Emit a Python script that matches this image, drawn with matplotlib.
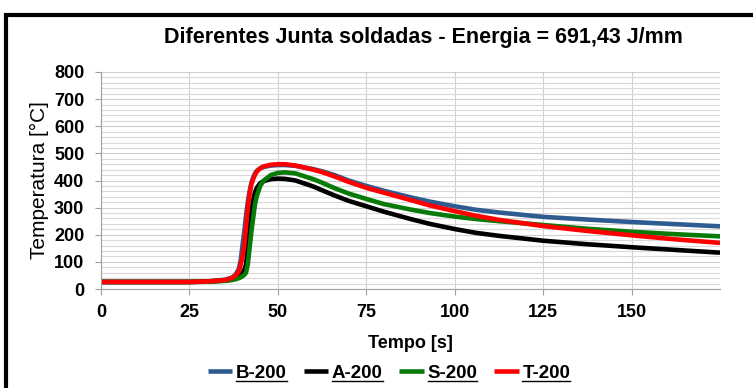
import matplotlib
matplotlib.use('Agg')
import matplotlib.pyplot as plt
from matplotlib.patches import Rectangle
from matplotlib.lines import Line2D
from matplotlib.ticker import MultipleLocator

plt.rcParams['font.family'] = ['Liberation Sans', 'DejaVu Sans']

# time [s]
tempo = [0, 25, 30, 35, 37, 38, 39, 39.5, 40, 40.5, 41, 41.5, 42, 42.5, 43, 43.5, 44, 45, 46, 48,
         50, 52, 55, 60, 62.5, 66, 70, 75, 80, 87.5, 93, 100, 106, 112.5, 125, 137.5, 150, 162.5, 175]

# temperatures [°C]
b200 = [26, 26, 28, 34, 42, 52, 75, 107, 160, 210, 270, 320, 360, 390, 410, 425, 435, 445, 450, 455,
        457, 457, 454, 442, 434, 420, 400, 380, 362, 338, 322, 305, 292, 282, 266, 256, 247, 239, 231]
a200 = [26, 26, 27, 31, 35, 39, 45, 50, 58, 70, 90, 150, 220, 280, 325, 355, 372, 390, 398, 405,
        407, 406, 400, 378, 364, 345, 325, 305, 285, 258, 240, 221, 207, 196, 178, 165, 154, 144, 134]
s200 = [26, 26, 27, 30, 33, 36, 40, 43, 47, 52, 60, 90, 150, 210, 260, 310, 340, 380, 400, 420,
        428, 430, 426, 405, 392, 372, 352, 332, 313, 293, 280, 267, 258, 250, 236, 222, 211, 202, 194]
t200 = [26, 26, 28, 33, 40, 50, 65, 90, 120, 160, 230, 300, 350, 385, 405, 420, 432, 445, 452, 458,
        460, 460, 455, 440, 431, 415, 395, 373, 355, 328, 308, 287, 270, 255, 232, 214, 198, 183, 170]

labels = ['B-200', 'A-200', 'S-200', 'T-200']
colors = ['#2E5C91', '#000000', '#087A08', '#FF0000']

fig = plt.figure(figsize=(7.53, 3.88), dpi=100)
ax = fig.add_axes([101/753, 1 - 289/388, 619/753, 217/388])

for y, lab, c in zip([b200, a200, s200, t200], labels, colors):
    ax.plot(tempo, y, color=c, lw=3.3, label=lab, solid_capstyle='butt')

ax.set_xlim(0, 175)
ax.set_ylim(0, 800)
ax.yaxis.set_major_locator(MultipleLocator(100))
ax.yaxis.set_minor_locator(MultipleLocator(20))
ax.set_xticks([0, 25, 50, 75, 100, 125, 150])
ax.grid(True, which='major', color='#D0D0D0', lw=0.8)
ax.grid(True, which='minor', axis='y', color='#D9D9D9', lw=0.8)
ax.set_axisbelow(True)
for s in ['top', 'right']:
    ax.spines[s].set_visible(False)
for s in ['left', 'bottom']:
    ax.spines[s].set_color('#A0A0A0')
ax.tick_params(axis='both', which='major', length=4, color='#A0A0A0', labelsize=13)
ax.tick_params(axis='x', pad=7)
ax.tick_params(axis='y', pad=8)
ax.tick_params(axis='y', which='minor', length=0)
for lbl in ax.get_xticklabels() + ax.get_yticklabels():
    lbl.set_fontweight('bold')

ax.set_xlabel('Tempo [s]', fontsize=13, fontweight='bold', labelpad=10)
ax.set_ylabel('Temperatura [°C]', fontsize=15, labelpad=4)
fig.text(423/753, 1 - 38/388, 'Diferentes Junta soldadas - Energia = 691,43 J/mm',
         ha='center', va='center', fontsize=15.5, fontweight='bold')

leg = fig.legend(loc='center', bbox_to_anchor=(389/753, 1 - 373/388), ncol=4, frameon=False,
                 prop={'weight': 'bold', 'size': 13.5}, handlelength=1.3, handletextpad=0.2,
                 columnspacing=0.9)
for h in leg.get_lines():
    h.set_linewidth(3.3)

# outer chart frame
fig.patches.append(Rectangle((6/753, -0.2), 1.2, 1.2 - 15/388, transform=fig.transFigure,
                             fill=False, edgecolor='black', lw=3, zorder=10))

# underline legend entries (Excel style)
fig.canvas.draw()
inv = fig.transFigure.inverted()
for txt in leg.get_texts():
    bb = txt.get_window_extent()
    (x0, y0), (x1, y1) = inv.transform([(bb.x0, bb.y0 + 1), (bb.x1, bb.y0 + 1)])
    fig.lines.append(Line2D([x0, x1], [y0, y1], transform=fig.transFigure, color='black', lw=1))

fig.savefig('out.png', dpi=100)
